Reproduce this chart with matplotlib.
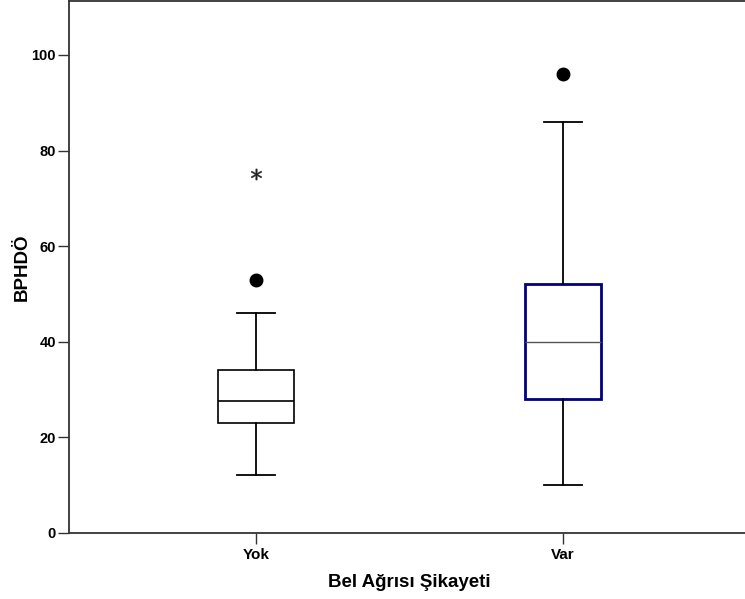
import matplotlib.pyplot as plt

groups = ['Yok', 'Var']
q1 = [23, 28]
med = [27.5, 40]
q3 = [34, 52]
whislo = [12, 10]
whishi = [46, 86]
outliers = [[53], [96]]
extremes = [[75], []]

plt.rcParams['font.family'] = ['Liberation Sans', 'DejaVu Sans']

fig = plt.figure(figsize=(7.45, 5.99), dpi=100)
ax = fig.add_axes([0.092, 0.1107, 0.9156, 0.8868])

stats = []
for i, g in enumerate(groups):
    stats.append(dict(label=g, q1=q1[i], med=med[i], q3=q3[i],
                      whislo=whislo[i], whishi=whishi[i], fliers=[]))

pos = [1, 2]
bp = ax.bxp(stats, positions=pos, widths=0.25, showfliers=False,
            patch_artist=True, manage_ticks=False)

edge = ['black', '#000080']
lw = [1.2, 2.0]
for i in range(2):
    bp['boxes'][i].set(facecolor='white', edgecolor=edge[i], linewidth=lw[i])
    bp['medians'][i].set(color='black' if i == 0 else '#555555', linewidth=1.2 if i == 0 else 1.0)
for w in bp['whiskers']:
    w.set(color='black', linewidth=1.3)
for c in bp['caps']:
    c.set(color='black', linewidth=1.3)

for i in range(2):
    for v in outliers[i]:
        ax.plot(pos[i], v, 'o', color='black', markersize=9)
    for v in extremes[i]:
        ax.plot(pos[i], v, marker='$*$', color='#222222', markersize=8,
                markeredgewidth=0.3, linestyle='none')

ax.set_xlim(0.389, 2.611)
ax.set_ylim(0, 111.2)
ax.set_xticks(pos)
ax.set_xticklabels(groups, fontsize=11, fontweight='bold')
ax.set_yticks([0, 20, 40, 60, 80, 100])
ax.set_yticklabels(['0', '20', '40', '60', '80', '100'], fontsize=10.5, fontweight='bold')
ax.tick_params(direction='out', length=8, width=1, color='#333333')
ax.tick_params(axis='y', pad=1)
ax.tick_params(axis='x', pad=3)
ax.spines['right'].set_visible(False)
for s in ['left', 'bottom', 'top']:
    ax.spines[s].set_color('#333333')
    ax.spines[s].set_linewidth(1.3)

ax.set_ylabel('BPHDÖ', fontsize=13.5, fontweight='bold')
ax.yaxis.set_label_coords(-0.056, 0.5)
ax.set_xlabel('Bel Ağrısı Şikayeti', fontsize=13.5, fontweight='bold', labelpad=9)

fig.savefig('out.png', dpi=100)
